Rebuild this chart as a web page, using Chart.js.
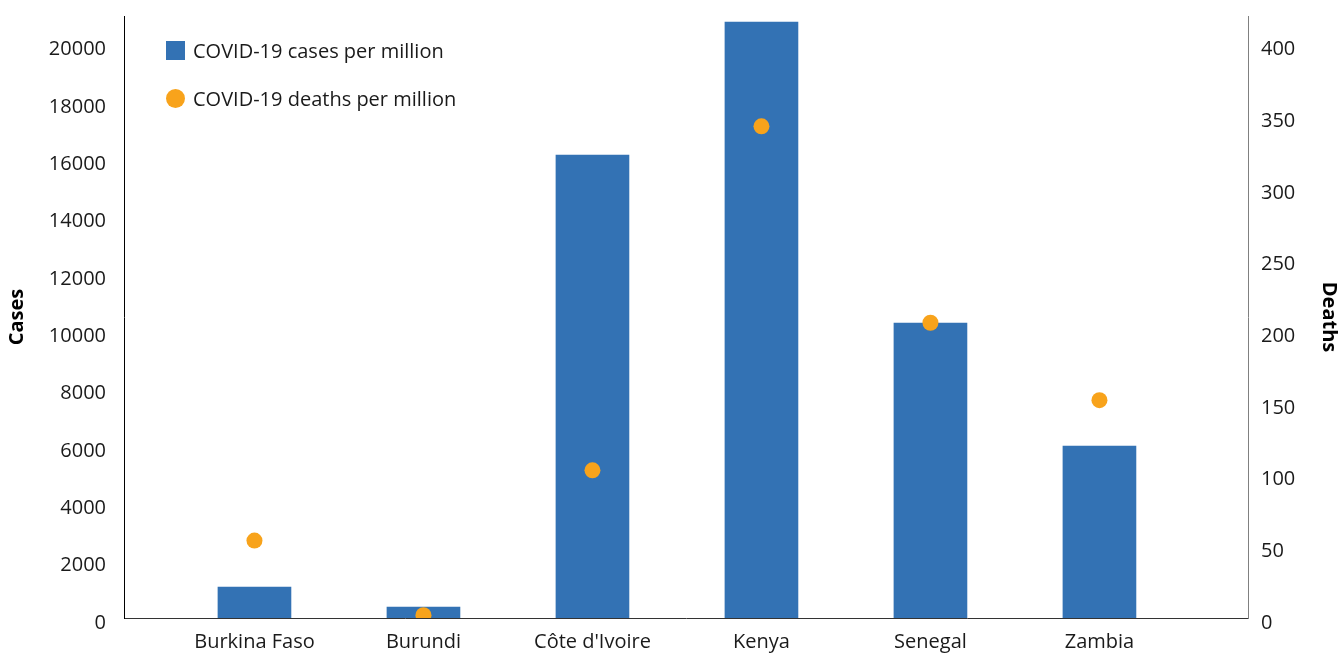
<!DOCTYPE html>
<html>
<head>
<meta charset="utf-8">
<script src="https://cdn.jsdelivr.net/npm/chart.js@4/dist/chart.umd.min.js"></script>
<style>
  html, body { margin: 0; padding: 0; background: #fff; }
  #wrap { position: relative; width: 1339px; height: 653px; }
  #legend { position: absolute; left: 166px; top: 36px; font-family: "Open Sans", sans-serif; font-size: 20px; color: #1a1a1a; }
  .row { position: relative; height: 48px; }
  .sw { position: absolute; left: 0; top: 5px; width: 19px; height: 19px; }
  .txt { position: absolute; left: 27px; top: 0; line-height: 29px; white-space: nowrap; }
</style>
</head>
<body>
<div id="wrap">
  <canvas id="c" width="1339" height="653"></canvas>
  <div id="legend">
    <div class="row"><span class="sw" style="background:#3372B4"></span><span class="txt">COVID-19 cases per million</span></div>
    <div class="row"><span class="sw" style="background:#F8A31B;border-radius:50%"></span><span class="txt">COVID-19 deaths per million</span></div>
  </div>
</div>
<script>
const categories = ["Burkina Faso", "Burundi", "Côte d'Ivoire", "Kenya", "Senegal", "Zambia"];
const casesPerMillion = [1080, 385, 16150, 20790, 10290, 6000];
const deathsPerMillion = [54, 2, 103, 343, 206, 152];
const casesTicks = [0, 2000, 4000, 6000, 8000, 10000, 12000, 14000, 16000, 18000, 20000];
const deathsTicks = [0, 50, 100, 150, 200, 250, 300, 350, 400];

const FONT = { family: "'Open Sans', sans-serif", size: 20 };
const TITLE_FONT = { family: "'Open Sans', sans-serif", size: 20, weight: 'bold', lineHeight: 1 };

new Chart(document.getElementById('c'), {
  data: {
    datasets: [
      {
        type: 'line',
        label: 'COVID-19 deaths per million',
        data: deathsPerMillion.map((v, i) => ({ x: i, y: v })),
        yAxisID: 'y1',
        showLine: false,
        pointRadius: 8,
        pointHoverRadius: 8,
        pointBackgroundColor: '#F8A31B',
        pointBorderWidth: 0,
        borderColor: '#F8A31B',
        order: 0
      },
      {
        type: 'bar',
        label: 'COVID-19 cases per million',
        data: casesPerMillion.map((v, i) => ({ x: i, y: v })),
        yAxisID: 'y',
        backgroundColor: '#3372B4',
        barThickness: 73,
        order: 1
      }
    ]
  },
  options: {
    responsive: false,
    animation: false,
    devicePixelRatio: 1,
    layout: { padding: { top: 16, left: 0, right: 0, bottom: 0 } },
    plugins: { legend: { display: false }, tooltip: { enabled: false } },
    scales: {
      x: {
        type: 'linear',
        offset: false,
        min: -0.772,
        max: 5.879,
        grid: { display: false, drawTicks: false, offset: false },
        border: { display: true, color: '#333333', width: 1 },
        ticks: {
          stepSize: 1,
          includeBounds: false,
          autoSkip: false,
          maxRotation: 0,
          padding: 12,
          color: '#1a1a1a',
          font: FONT,
          callback: (v) => (Number.isInteger(v) && categories[v] !== undefined) ? categories[v] : ''
        },
        afterFit: (s) => { s.height = 35; s.paddingLeft = 0; s.paddingRight = 0; }
      },
      y: {
        type: 'linear',
        position: 'left',
        min: 0,
        max: 21000,
        afterBuildTicks: (s) => { s.ticks = casesTicks.map(v => ({ value: v })); },
        grid: { display: false, drawTicks: false },
        border: { display: true, color: '#000000', width: 1 },
        ticks: { padding: 18, labelOffset: 5, color: '#1a1a1a', font: FONT, callback: (v) => String(v) },
        title: { display: true, text: 'Cases', color: '#000', font: TITLE_FONT, padding: { top: 7, bottom: 0 } },
        afterFit: (s) => { s.width = 124; s.paddingTop = 0; s.paddingBottom = 0; }
      },
      y1: {
        type: 'linear',
        position: 'right',
        min: 0,
        max: 420,
        afterBuildTicks: (s) => { s.ticks = deathsTicks.map(v => ({ value: v })); },
        grid: { display: false, drawTicks: false },
        border: { display: true, color: '#808080', width: 1 },
        ticks: { padding: 13, labelOffset: 5, color: '#1a1a1a', font: FONT, callback: (v) => String(v) },
        title: { display: true, text: 'Deaths', color: '#000', font: TITLE_FONT, padding: { top: 0, bottom: 0 } },
        afterFit: (s) => { s.width = 91; s.paddingTop = 0; s.paddingBottom = 0; }
      }
    }
  }
});
</script>
</body>
</html>
